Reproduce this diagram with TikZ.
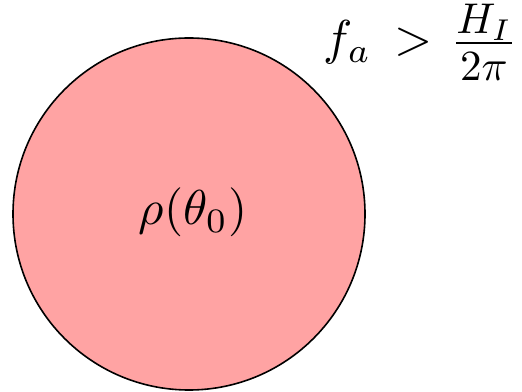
\documentclass[tikz,border=0pt]{standalone}
\usepackage{amsmath}
\definecolor{blobpink}{RGB}{255,163,163}
\begin{document}
\begin{tikzpicture}[x=1pt,y=1pt,
  bigmath/.style={scale=4.9, transform shape, inner sep=0pt},
  fracmath/.style={scale=4.3, transform shape, inner sep=0pt}]
\useasboundingbox (0,0) rectangle (522,391);
\node[circle, draw=black, line width=1.6pt, fill=blobpink, minimum size=352pt, inner sep=0pt] (blob) at (189,177) {};
\node[bigmath] (rho) at (193,178.5) {$\rho(\theta_0)$};
\node[bigmath, anchor=base west] (fa) at (323,336) {$f_a$};
\node[bigmath, anchor=base] (gt) at (413.5,336) {$>$};
\node[fracmath, anchor=base] (frac) at (484,337.25)
  {$\tfrac{\displaystyle H_I}{\displaystyle 2\pi\rule{0pt}{8.1pt}}$};
\end{tikzpicture}
\end{document}
